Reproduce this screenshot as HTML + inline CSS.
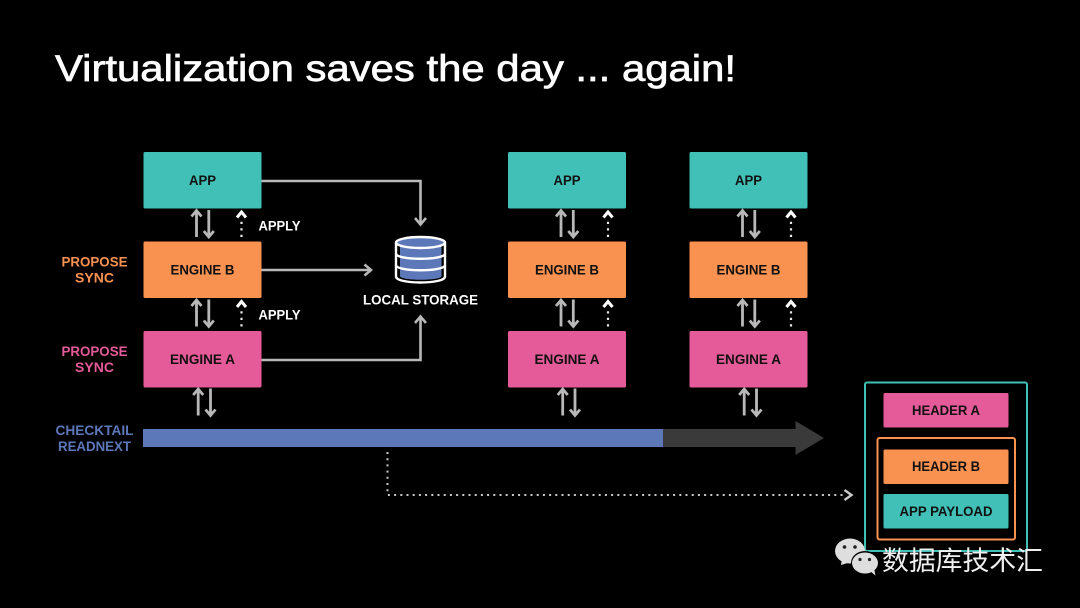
<!DOCTYPE html>
<html><head><meta charset="utf-8">
<style>
html,body{margin:0;padding:0;background:#000;width:1080px;height:608px;overflow:hidden}
svg{display:block}
text{font-family:"Liberation Sans",sans-serif}
.l{font-size:13.5px;font-weight:700;text-anchor:middle}
</style></head><body>
<svg width="1080" height="608" viewBox="0 0 1080 608" xmlns="http://www.w3.org/2000/svg">
<defs>
<g id="ud" fill="none" stroke="#b8b8b8" stroke-width="2.800">
<path d="M0 28V1.500M-5 7.500L0 1.500L5 7.500"/>
<path d="M12.300 1V28M7.300 22L12.300 28L17.300 22"/>
</g>
<g id="dot" fill="none">
<path d="M0 27.500V12" stroke="#e8e8e8" stroke-width="2.200" stroke-dasharray="2.200 4.300"/>
<path d="M-4.500 8L0 2.500L4.500 8" stroke="#fff" stroke-width="3"/>
</g>
<g id="stack">
<rect x="0" y="0" width="118" height="56.500" rx="1.500" fill="#41c0b7"/>
<rect x="0" y="89.500" width="118" height="56.500" rx="1.500" fill="#f99250"/>
<rect x="0" y="179" width="118" height="56.500" rx="1.500" fill="#e55a98"/>
<text class="l" x="59" y="33" fill="#111" textLength="27" lengthAdjust="spacingAndGlyphs">APP</text>
<text class="l" x="59" y="122.500" fill="#111" textLength="64" lengthAdjust="spacingAndGlyphs">ENGINE B</text>
<text class="l" x="59" y="212" fill="#111" textLength="65" lengthAdjust="spacingAndGlyphs">ENGINE A</text>
<use href="#ud" x="53" y="57"/>
<use href="#ud" x="53" y="146.500"/>
<use href="#ud" x="54.700" y="235.500"/>
</g>
</defs>

<text x="55" y="81" fill="#fff" stroke="#fff" stroke-width=".7" font-size="37" textLength="681" lengthAdjust="spacingAndGlyphs">Virtualization saves the day ... again!</text>

<use href="#stack" x="143.500" y="152"/>
<use href="#stack" x="508" y="152"/>
<use href="#stack" x="689.500" y="152"/>
<use href="#dot" x="241.500" y="209.500"/>
<use href="#dot" x="241.500" y="299"/>
<use href="#dot" x="608" y="209.500"/>
<use href="#dot" x="608" y="299"/>
<use href="#dot" x="791" y="209.500"/>
<use href="#dot" x="791" y="299"/>

<g fill="none" stroke="#b8b8b8" stroke-width="2.600">
<path d="M261.500 181H420.500V224M415 218L420.500 224.500L426 218"/>
<path d="M261.500 270H371M364.500 264.500L371 270L364.500 275.500"/>
<path d="M261.500 360H420.500V317M415 323L420.500 316.500L426 323"/>
</g>

<text class="l" x="279.500" y="230.500" fill="#fff" textLength="42" lengthAdjust="spacingAndGlyphs">APPLY</text>
<text class="l" x="279.500" y="319.500" fill="#fff" textLength="42" lengthAdjust="spacingAndGlyphs">APPLY</text>
<text class="l" x="420.500" y="304.500" fill="#fff" textLength="115" lengthAdjust="spacingAndGlyphs">LOCAL STORAGE</text>

<text class="l" x="94.500" y="266.500" fill="#f99250" textLength="66" lengthAdjust="spacingAndGlyphs">PROPOSE</text>
<text class="l" x="94.500" y="282.500" fill="#f99250" textLength="39" lengthAdjust="spacingAndGlyphs">SYNC</text>
<text class="l" x="94.500" y="356" fill="#e55a98" textLength="66" lengthAdjust="spacingAndGlyphs">PROPOSE</text>
<text class="l" x="94.500" y="372" fill="#e55a98" textLength="39" lengthAdjust="spacingAndGlyphs">SYNC</text>
<text class="l" x="94.500" y="435" fill="#5d78b9" textLength="78" lengthAdjust="spacingAndGlyphs">CHECKTAIL</text>
<text class="l" x="94.500" y="451" fill="#5d78b9" textLength="73" lengthAdjust="spacingAndGlyphs">READNEXT</text>

<!-- storage -->
<path d="M400 241H441.500V276C441.500 281 400 281 400 276Z" fill="#5d78b9"/>
<g fill="none" stroke="#fff" stroke-width="2.400">
<ellipse cx="420.500" cy="242.500" rx="24.500" ry="5.500" fill="#5d78b9"/>
<path d="M396 242.500V276.500C396 284.500 445 284.500 445 276.500V242.500"/>
<path d="M396 253.500C396 260.500 445 260.500 445 253.500"/>
<path d="M396 265C396 272 445 272 445 265"/>
</g>

<!-- timeline -->
<path d="M663 429H795.500V421L824 438L795.500 455V447H663Z" fill="#3a3a3a"/>
<rect x="143" y="429" width="520" height="18" fill="#5d78b9"/>

<!-- dotted -->
<g fill="none" stroke="#c8c8c8">
<path d="M387.500 452V495H846" stroke-width="2" stroke-dasharray="2 4.200"/>
<path d="M844.500 490L851.500 495L844.500 500" stroke-width="2.400"/>
</g>

<!-- packet -->
<rect x="865" y="382.500" width="162" height="168.500" rx="2" fill="none" stroke="#41c0b7" stroke-width="2"/>
<rect x="877.500" y="438" width="137.500" height="101.500" rx="2" fill="none" stroke="#f99250" stroke-width="2"/>
<rect x="883.500" y="393" width="125" height="34.500" rx="1.500" fill="#e55a98"/>
<rect x="883.500" y="449.500" width="125" height="34.500" rx="1.500" fill="#f99250"/>
<rect x="883.500" y="494" width="125" height="34.500" rx="1.500" fill="#41c0b7"/>
<text class="l" x="946" y="415" fill="#111" textLength="68" lengthAdjust="spacingAndGlyphs">HEADER A</text>
<text class="l" x="946" y="471" fill="#111" textLength="68" lengthAdjust="spacingAndGlyphs">HEADER B</text>
<text class="l" x="946" y="516" fill="#111" textLength="93" lengthAdjust="spacingAndGlyphs">APP PAYLOAD</text>

<!-- watermark -->
<g>
<path d="M841 565L842 558L851 562Z" fill="#dedede"/>
<ellipse cx="850" cy="551" rx="15" ry="12.500" fill="#dedede"/>
<circle cx="844.500" cy="547" r="1.800" fill="#222"/>
<circle cx="855" cy="547" r="1.800" fill="#222"/>
<ellipse cx="865" cy="563" rx="14" ry="12" fill="#000"/>
<ellipse cx="865" cy="563" rx="13" ry="10.500" fill="#dedede"/>
<path d="M870 571L875.500 575.500L874 568Z" fill="#dedede"/>
<circle cx="860" cy="559.500" r="1.600" fill="#222"/>
<circle cx="869.500" cy="559.500" r="1.600" fill="#222"/>
</g>
<text x="882" y="570" fill="#f0f0f0" font-size="26.700" style="font-family:'Noto Sans CJK SC','WenQuanYi Zen Hei',sans-serif;font-weight:400" textLength="161" lengthAdjust="spacingAndGlyphs">数据库技术汇</text>
</svg>
</body></html>
